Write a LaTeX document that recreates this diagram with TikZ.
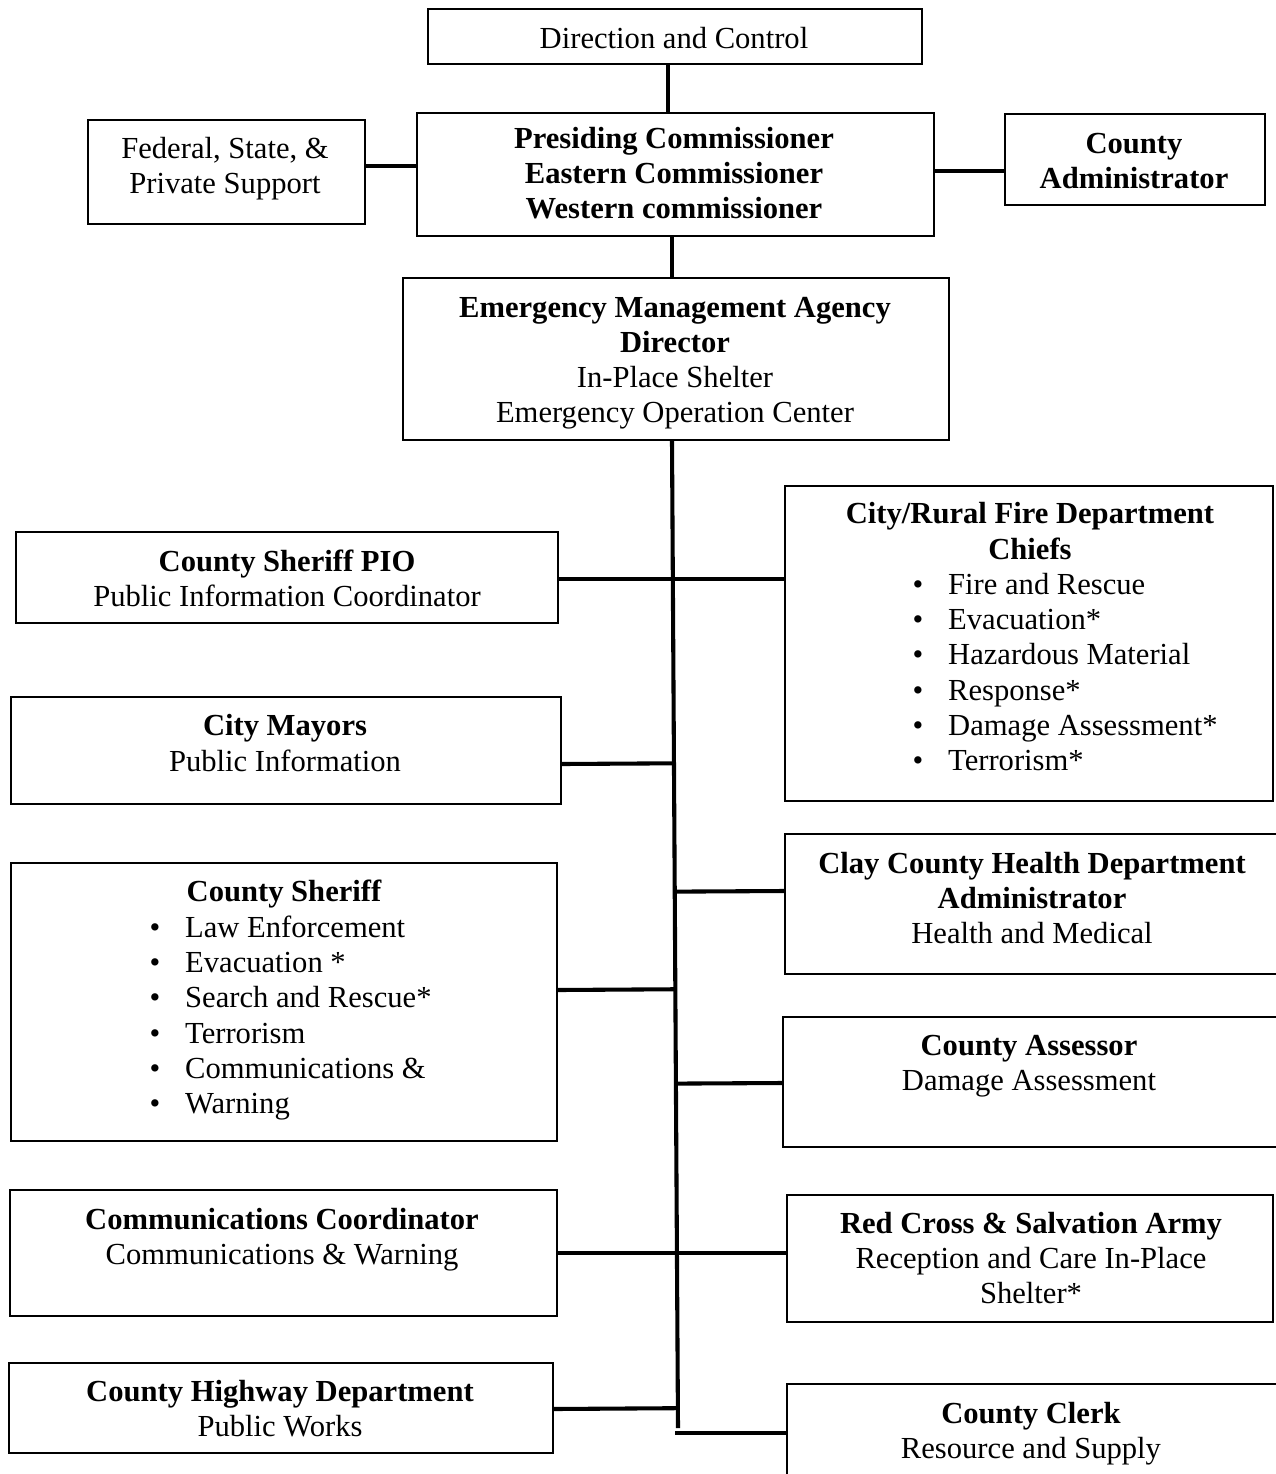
\documentclass[tikz,border=0pt]{standalone}
\usepackage{fontspec}
\setmainfont{Liberation Serif}
\usetikzlibrary{calc}
\newcommand{\itm}[1]{\makebox[14pt][l]{\textbullet}#1}
\begin{document}
\begin{tikzpicture}[x=0.3922pt,y=-0.3922pt,
  box/.style={draw, line width=0.8pt, inner sep=0pt},
  span/.style n args={4}{anchor=north west, at={(#1,#2)},
    minimum width={(#3-#1)*0.3922pt}, minimum height={(#4-#2)*0.3922pt}},
  link/.style={line width=1.6pt},
  txt/.style={inner sep=0pt, align=center, font=\fontsize{12}{13.8}\selectfont},
  lst/.style={inner sep=0pt, align=left, anchor=west, font=\fontsize{12}{13.8}\selectfont},
]
\useasboundingbox (0,0) rectangle (1276,1474);
\begin{scope}
\clip (0,0) rectangle (1276,1474);

% frames
\node[box, span={427}{8}{921}{63}]      (dc) {};
\node[box, span={416}{112}{933}{235}]   (pres) {};
\node[box, span={87}{119}{364}{223}]    (fed) {};
\node[box, span={1004}{113}{1264}{204}] (admin) {};
\node[box, span={402}{277}{948}{439}]   (ema) {};
\node[box, span={15}{531}{557}{622}]    (pio) {};
\node[box, span={784}{485}{1272}{800}]  (fire) {};
\node[box, span={10}{696}{560}{803}]    (mayors) {};
\node[box, span={784}{833}{1290}{973}]  (health) {};
\node[box, span={10}{862}{556}{1140}]   (sheriff) {};
\node[box, span={782}{1016}{1290}{1146}] (assessor) {};
\node[box, span={9}{1189}{556}{1315}]   (comm) {};
\node[box, span={786}{1194}{1272}{1321}] (redcross) {};
\node[box, span={8}{1362}{552}{1452}]   (highway) {};
\node[box, span={786}{1383}{1290}{1500}] (clerk) {};

% texts
\node[txt] (dc-t) at (674,38) {Direction and Control};
\node[txt] (fed-t) at (225,169) {Federal, State, \&\\Private Support};
\node[txt, font=\fontsize{12}{13.8}\selectfont\bfseries] (pres-t) at (674,173)
  {Presiding Commissioner\\Eastern Commissioner\\Western commissioner};
\node[txt, font=\fontsize{12}{13.8}\selectfont\bfseries] (admin-t) at (1134,161)
  {County\\Administrator};
\node[txt] (ema-t) at (675,363) {\textbf{Emergency Management Agency}\\\textbf{Director}\\In-Place Shelter\\Emergency Operation Center};
\node[txt] (pio-t) at (287,578) {\textbf{County Sheriff PIO}\\Public Information Coordinator};
\node[txt, font=\fontsize{12}{13.8}\selectfont\bfseries] (fire-t) at (1030,531)
  {City/Rural Fire Department\\Chiefs};
\node[lst] (fire-l) at (912,672) {\itm{Fire and Rescue}\\\itm{Evacuation*}\\\itm{Hazardous Material}\\\itm{Response*}\\\itm{Damage Assessment*}\\\itm{Terrorism*}};
\node[txt] (mayors-t) at (285,743) {\textbf{City Mayors}\\Public Information};
\node[txt] (health-t) at (1032,898) {\textbf{Clay County Health Department}\\\textbf{Administrator}\\Health and Medical};
\node[txt, font=\fontsize{12}{13.8}\selectfont\bfseries] (sheriff-t) at (284,894) {County Sheriff};
\node[lst] (sheriff-l) at (149,1018) {\itm{Law Enforcement}\\\itm{Evacuation *}\\\itm{Search and Rescue*}\\\itm{Terrorism}\\\itm{Communications \&}\\\itm{Warning}};
\node[txt] (assessor-t) at (1029,1066) {\textbf{County Assessor}\\Damage Assessment};
\node[txt] (comm-t) at (282,1240) {\textbf{Communications Coordinator}\\Communications \& Warning};
\node[txt] (redcross-t) at (1031,1258) {\textbf{Red Cross \& Salvation Army}\\Reception and Care In-Place\\Shelter*};
\node[txt] (highway-t) at (280,1409) {\textbf{County Highway Department}\\Public Works};
\node[txt] (clerk-t) at (1031,1434) {\textbf{County Clerk}\\Resource and Supply};

% upper links
\draw[link] (dc.south -| 668,0) -- (pres.north -| 668,0);
\draw[link] (fed.east |- 0,166) -- (pres.west |- 0,166);
\draw[link] (pres.east |- 0,171) -- (admin.west |- 0,171);
\draw[link] (pres.south -| 672,0) -- (ema.north -| 672,0);

% main trunk
\coordinate (tTop) at (ema.south -| 672,0);
\coordinate (tEnd) at (678,1428);
\draw[link] (tTop) -- (tEnd);

% branch points on the frames
\coordinate (mayorsP) at (mayors.east |- 0,764);
\coordinate (healthP) at (health.west |- 0,891);
\coordinate (sheriffP) at (sheriff.east |- 0,990);
\coordinate (assessorP) at (assessor.west |- 0,1083);
\coordinate (highwayP) at (highway.east |- 0,1409);
\coordinate (clerkP) at (clerk.west |- 0,1433);
\coordinate (clerkS) at (675,1433);

% branches
\draw[link] (pio.east |- 0,579) -- (fire.west |- 0,579);
\draw[link] (mayorsP) -- ($(tTop)!(mayorsP)!(tEnd)$);
\draw[link] ($(tTop)!(healthP)!(tEnd)$) -- (healthP);
\draw[link] (sheriffP) -- ($(tTop)!(sheriffP)!(tEnd)$);
\draw[link] ($(tTop)!(assessorP)!(tEnd)$) -- (assessorP);
\draw[link] (comm.east |- 0,1253) -- (redcross.west |- 0,1253);
\draw[link] (highwayP) -- ($(tTop)!(highwayP)!(tEnd)$);
\draw[link] (clerkS) -- (clerkP);
\end{scope}
\end{tikzpicture}
\end{document}
